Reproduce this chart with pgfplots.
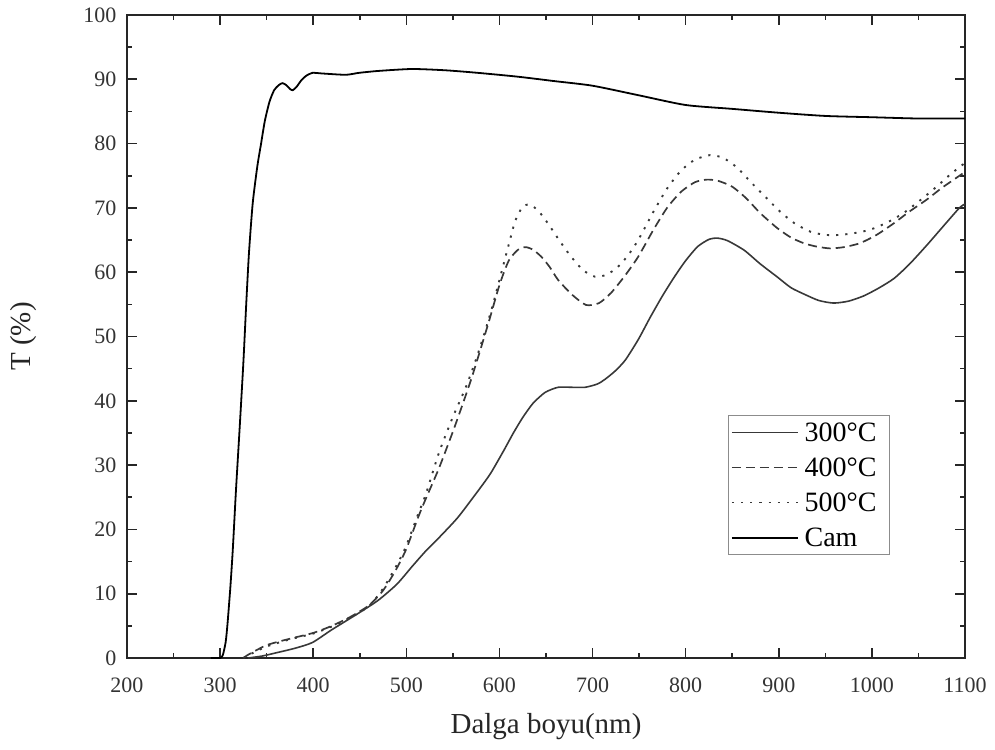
\documentclass[border=0pt]{standalone}
\usepackage{fontspec}
\setmainfont{Liberation Serif}
\usepackage{pgfplots}
\pgfplotsset{compat=1.18}
\definecolor{ln}{gray}{0.22}
\begin{document}
\begin{tikzpicture}
\begin{axis}[name=ax,
  scale only axis, width=838pt, height=643pt,
  xmin=200, xmax=1100, ymin=0, ymax=100,
  xtick={200,300,...,1100}, ytick={0,10,...,100},
  minor x tick num=1, minor y tick num=1,
  tick align=inside, tick pos=both,
  major tick length=10pt, minor tick length=5pt,
  axis line style={line width=1.6pt, black!85},
  every tick/.style={line width=1.6pt, black!85},
  /pgf/number format/assume math mode=true,
  /pgf/number format/1000 sep={},
  tick label style={font=\fontsize{22}{26}\selectfont, text=black!80},
  xticklabel style={anchor=center, yshift=-27pt},
  yticklabel style={xshift=-7pt},
  xlabel={Dalga boyu(nm)}, ylabel={T (\%)},
  label style={font=\fontsize{29}{34}\selectfont, text=black!85},
  xlabel style={at={(axis description cs:0.5,-0.106)}, anchor=center},
  ylabel style={at={(axis description cs:-0.123,0.5)}, anchor=center},
  legend style={at={(axis cs:845,37.8)}, anchor=north west, draw=black!45, line width=0.9pt,
    font=\fontsize{28}{32}\selectfont, row sep=11pt, column sep=4pt, inner xsep=3pt, inner ysep=5pt},
  legend cell align=left,
  legend image code/.code={\draw[#1, line width=1.6pt] (0pt,0pt) -- (66pt,0pt);},
  clip=true,
]
\addplot[ln, line width=1.6pt, smooth, tension=0.4] coordinates {
(330,0) (345,0.3) (360,0.8) (380,1.5) (399,2.4) (420,4.4) (449,7) (470,9.0) (490,11.5) (506,14.2) (520,16.5) (535,18.7) (555,21.8) (575,25.6) (590,28.6) (604,32.1) (615,35) (625,37.4) (636,39.6) (649,41.3) (663,42.1) (678,42.1) (692,42.1) (705,42.6) (713,43.3) (724,44.6) (735,46.3) (749,49.5) (762,53) (775,56.3) (788,59.3) (800,61.8) (813,64) (825,65.1) (834,65.3) (845,64.9) (863,63.4) (880,61.3) (898,59.3) (913,57.6) (927,56.6) (943,55.6) (959,55.2) (975,55.5) (991,56.3) (1007,57.5) (1023.5,59) (1040,61.2) (1059,64.2) (1077,67.2) (1094,70) (1100,70.6)
};
\addlegendentry{300°C\rule{8pt}{0pt}}
\addplot[ln, line width=1.7pt, dash pattern=on 9pt off 5pt, smooth, tension=0.4] coordinates {
(325,0) (330,0.5) (350,2.0) (375,3.0) (400,3.9) (420,5.0) (440,6.4) (460,8.2) (475,10.5) (488,13.5) (499.5,16.8) (513,22) (521,24.8) (535,29.5) (552,36) (570,43.5) (588,52) (600,58) (610,61.8) (620,63.5) (628,63.9) (636,63.5) (645,62.4) (654,60.8) (663,58.8) (678,56.5) (693,54.9) (707,55.2) (720,56.8) (735,59.5) (749,62.4) (765,66.5) (780,70) (795,72.5) (810,74) (823,74.4) (835,74.2) (850,73.3) (865,71.5) (880,69.2) (898,66.9) (913,65.4) (927,64.5) (940,64) (955,63.7) (970,63.9) (987,64.5) (1005,65.8) (1023.5,67.6) (1040,69.4) (1059,71.3) (1075,73.1) (1088,74.4) (1100,75.6)
};
\addlegendentry{400°C}
\addplot[ln, line width=1.9pt, dash pattern=on 2.2pt off 7pt, smooth, tension=0.4] coordinates {
(325,0) (330,0.4) (350,1.8) (375,2.9) (400,3.8) (420,4.9) (440,6.3) (460,8.1) (475,10.8) (488,14) (499.5,17.3) (513,22.5) (521,25.5) (535,31.9) (550,37.5) (563.6,42) (575,46.5) (585,51) (594,55.5) (602,59.9) (610,64.3) (617,68) (625,70.2) (633,70.5) (642,69.5) (652,67.6) (665,64.8) (677,62.4) (690,60.3) (702.7,59.3) (715,59.6) (727,60.8) (738,62.6) (749,65) (765,69.3) (780,73) (795,75.8) (810,77.5) (826,78.2) (840,77.8) (855,76.3) (870,74) (885,71.8) (901.6,69.4) (917,67.6) (934,66.3) (950,65.8) (966,65.8) (982,66.1) (998,66.6) (1016,67.7) (1034,69.2) (1052,71.2) (1069.5,73.3) (1085,75.3) (1100,77)
};
\addlegendentry{500°C}
\addplot[black, line width=1.8pt, smooth, tension=0.4] coordinates {
(290,0) (300,0) (303,0.5) (306,2.5) (308,5.4) (311,11) (313.6,16.8) (317,26) (321,35.8) (325,46) (328,54.9) (331,63) (335,70.7) (340,76.5) (344,80) (348,83.5) (353,86.5) (358,88.3) (363,89.1) (367,89.4) (371,89.1) (375,88.5) (378,88.3) (382,88.8) (387,89.8) (392,90.5) (399,91.0) (410,90.9) (435,90.7) (449,91.0) (470,91.3) (506,91.6) (542,91.4) (577,91.0) (620,90.4) (660,89.7) (700,89.0) (750,87.5) (800,86.0) (850,85.4) (900,84.8) (950,84.3) (1000,84.1) (1050,83.9) (1100,83.9)
};
\addlegendentry{Cam}
\end{axis}
\path ([shift={(-127pt,-91pt)}]ax.south west) rectangle ([shift={(30pt,15pt)}]ax.north east);
\end{tikzpicture}
\end{document}
